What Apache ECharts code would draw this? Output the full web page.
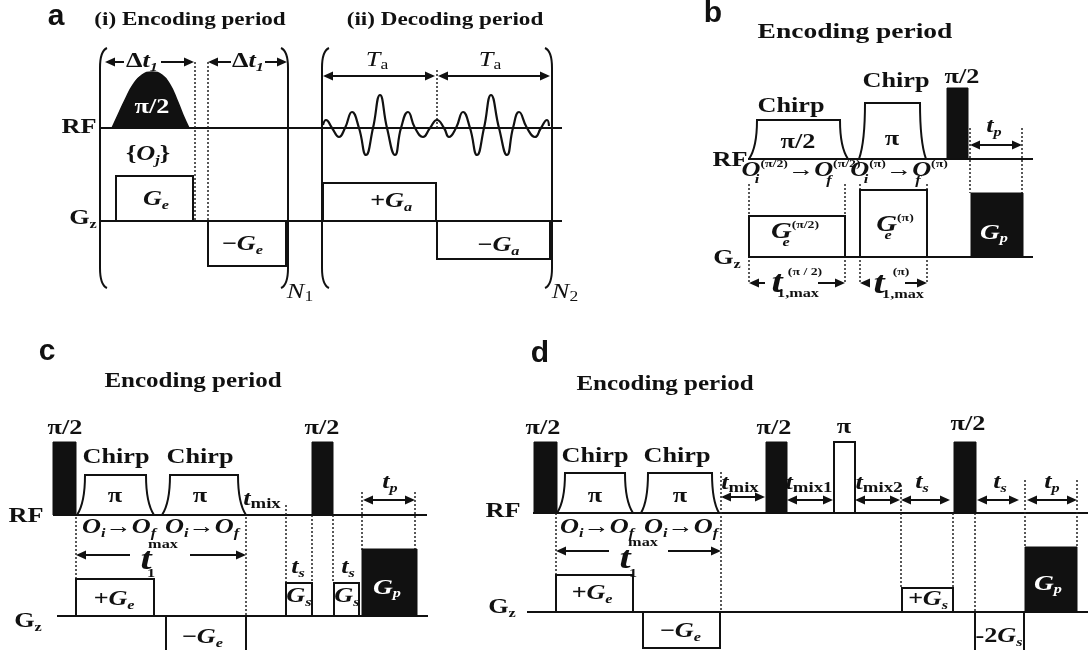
<!DOCTYPE html>
<html>
<head>
<meta charset="utf-8">
<title>Encoding / decoding pulse sequences</title>
<script src="https://cdn.jsdelivr.net/npm/echarts@6/dist/echarts.min.js"></script>
<style>
    html, body { margin: 0; padding: 0; background: #fff; }
    #chart { width: 1088px; height: 650px; }
</style>
</head>
<body>
<div id="chart"></div>
<script>
// all positions are in diagram units: x 0-1088, y 0-650 (y grows downward)

// RF / Gz baselines [x0, x1, y]
const baselines = [
    [100, 562, 128], [100, 562, 221],
    [748, 1033, 159], [748, 1033, 257],
    [53, 427, 515], [57, 428, 616],
    [533, 1088, 513], [527, 1088, 612]
];

// black hard pulses and Gp gradients [x0, x1, yBase, yTop]
const solidPulses = [
    [947, 968, 159, 88], [971, 1023, 257, 193],
    [53, 76, 515, 442], [312, 333, 515, 442], [362, 417, 616, 549],
    [534, 557, 513, 442], [766, 787, 513, 442], [954, 976, 513, 442], [1025, 1077, 612, 547]
];

// open gradient lobes and the open pi pulse [x0, x1, yBase, yTop]
const openBoxes = [
    [116, 193, 221, 176], [208, 286, 221, 266], [323, 436, 221, 183], [437, 550, 221, 259],
    [749, 845, 257, 216], [860, 927, 257, 190],
    [76, 154, 616, 579], [166, 246, 616, 660], [286, 312, 616, 583], [334, 359, 616, 583],
    [556, 633, 612, 575], [643, 720, 612, 648], [902, 953, 612, 588], [975, 1024, 612, 660],
    [834, 855, 513, 442]
];

// chirp pulses [x0, x1, yBase, yTop, rise]
const chirps = [
    [749, 848, 159, 120, 8], [859, 926, 159, 103, 6],
    [77, 154, 515, 475, 8], [162, 246, 515, 475, 8],
    [557, 633, 513, 473, 8], [641, 719, 513, 473, 7]
];

// selective pi/2 pulse of panel a
const lobeX = [112, 118, 125, 133, 142, 152, 162, 170, 177, 183, 189];
const lobeY = [128, 115, 100, 85, 75, 72, 75, 85, 100, 115, 128];

// acquired echoes of panel a
const echoX = [323, 326, 332, 339, 345, 352, 359, 366, 373, 380, 387, 395, 401, 408, 415, 423, 430,
    437, 444, 449, 456, 463, 470, 477, 484, 491, 499, 507, 513, 519, 527, 535, 541, 547, 549];
const echoY = [125, 120, 128, 137, 128, 112, 128, 155, 128, 95, 128, 155, 128, 112, 128, 137, 128,
    120, 128, 137, 128, 112, 128, 155, 128, 95, 128, 155, 128, 112, 128, 137, 128, 120, 126];

// double arrows [x0, x1, y, gapStart, gapEnd]
const arrows = [
    [105, 194, 62, 124, 161], [208, 287, 62, 231, 265], [323, 435, 76], [438, 550, 76],
    [970, 1022, 145], [749, 845, 283, 765, 818], [860, 927, 283, 868, 905],
    [76, 246, 555, 130, 190], [363, 415, 500],
    [556, 721, 551, 609, 668], [721, 765, 497], [787, 833, 500], [855, 900, 500],
    [901, 950, 500], [977, 1019, 500], [1027, 1077, 500]
];

// dotted timing marks [x, y0, y1]
const dotted = [
    [195, 62, 221], [208, 62, 221], [437, 70, 128],
    [749, 184, 283], [845, 184, 283], [860, 184, 283], [927, 184, 283], [970, 128, 193], [1022, 128, 193],
    [76, 517, 579], [246, 517, 616], [286, 505, 583], [312, 515, 583], [333, 515, 583], [362, 492, 550], [415, 492, 550],
    [556, 513, 575], [721, 472, 612], [901, 485, 588], [953, 513, 588], [975, 513, 612], [1025, 480, 547], [1077, 480, 547]
];

// loop brackets [x, y0, y1, side]
const brackets = [[100, 48, 288, 1], [288, 48, 288, -1], [322, 48, 288, 1], [552, 48, 288, -1]];

// panel letters
const panelLetters = [[56, 17, 'a'], [713, 14, 'b'], [47, 352, 'c'], [540, 354, 'd']];

// text labels [x, y, text]
const labels = [
    // a
    [190, 20, '{h0|(i) Encoding period}'],
    [445, 20, '{h0|(ii) Decoding period}'],
    [142, 62, '{t|Δ}{i|t}{sub|1}'],
    [248, 62, '{t|Δ}{i|t}{sub|1}'],
    [152, 108, '{w|π/2}'],
    [79, 128, '{t|RF}'],
    [148, 155, '{{i|O}{sub|j}}'],
    [156, 200, '{i|G}{sub|e}'],
    [242, 245, '{i|−G}{sub|e}'],
    [83, 219, '{t|G}{subn|z}'],
    [300, 292, '{ir|N}{subr|1}'],
    [377, 60, '{ir|T}{subr|a}'],
    [490, 60, '{ir|T}{subr|a}'],
    [391, 202, '{i|+G}{sub|a}'],
    [498, 246, '{i|−G}{sub|a}'],
    [565, 292, '{ir|N}{subr|2}'],
    // b
    [855, 32, '{hb|Encoding period}'],
    [791, 107, '{t|Chirp}'],
    [896, 82, '{t|Chirp}'],
    [798, 143, '{t|π/2}'],
    [892, 140, '{t|π}'],
    [962, 78, '{t|π/2}'],
    [994, 127, '{i|t}{sub|p}'],
    [730, 161, '{t|RF}'],
    [801, 171, '{i|O}{sup|(π/2)}{t|→}{i|O}{sup|(π/2)}'],
    [757, 181, '{sub|i}'], [829, 182, '{sub|f}'],
    [899, 171, '{i|O}{sup|(π)}{t|→}{i|O}{sup|(π)}'],
    [866, 181, '{sub|i}'], [918, 182, '{sub|f}'],
    [795, 232, '{ib|G}{sup|(π/2)}'], [786, 244, '{sub|e}'],
    [895, 225, '{ib|G}{sup|(π)}'], [888, 237, '{sub|e}'],
    [994, 233, '{wi|G}{wsub|p}'],
    [727, 259, '{t|G}{subn|z}'],
    [777, 284, '{big|t}'], [805, 272, '{sup|(π / 2)}'], [798, 295, '{subn|1,max}'],
    [879, 285, '{big|t}'], [901, 272, '{sup|(π)}'], [903, 296, '{subn|1,max}'],
    // c
    [193, 382, '{h|Encoding period}'],
    [65, 429, '{t|π/2}'], [322, 429, '{t|π/2}'],
    [116, 458, '{t|Chirp}'], [200, 458, '{t|Chirp}'],
    [115, 497, '{t|π}'], [200, 497, '{t|π}'],
    [262, 500, '{i|t}{mix|mix}'],
    [390, 483, '{i|t}{sub|p}'],
    [26, 517, '{t|RF}'],
    [119, 528, '{i|O}{sub|i}{t|→}{i|O}{sub|f}'],
    [202, 528, '{i|O}{sub|i}{t|→}{i|O}{sub|f}'],
    [146, 561, '{big|t}'], [163, 546, '{subn|max}'], [151, 575, '{subn|1}'],
    [298, 568, '{i|t}{sub|s}'], [348, 568, '{i|t}{sub|s}'],
    [299, 597, '{i|G}{sub|s}'], [347, 597, '{i|G}{sub|s}'],
    [387, 588, '{wi|G}{wsub|p}'],
    [114, 600, '{i|+G}{sub|e}'],
    [202, 638, '{i|−G}{sub|e}'],
    [28, 622, '{t|G}{subn|z}'],
    // d
    [665, 385, '{h|Encoding period}'],
    [543, 429, '{t|π/2}'], [774, 429, '{t|π/2}'], [968, 425, '{t|π/2}'],
    [595, 457, '{t|Chirp}'], [677, 457, '{t|Chirp}'],
    [595, 497, '{t|π}'], [680, 497, '{t|π}'],
    [844, 428, '{t|π}'],
    [503, 512, '{t|RF}'],
    [597, 528, '{i|O}{sub|i}{t|→}{i|O}{sub|f}'],
    [681, 528, '{i|O}{sub|i}{t|→}{i|O}{sub|f}'],
    [625, 560, '{big|t}'], [643, 544, '{subn|max}'], [633, 575, '{subn|1}'],
    [740, 484, '{i|t}{mix|mix}'],
    [809, 484, '{i|t}{mix|mix1}'],
    [879, 484, '{i|t}{mix|mix2}'],
    [922, 483, '{i|t}{sub|s}'], [1000, 483, '{i|t}{sub|s}'], [1052, 483, '{i|t}{sub|p}'],
    [592, 594, '{i|+G}{sub|e}'],
    [680, 632, '{i|−G}{sub|e}'],
    [928, 600, '{i|+G}{sub|s}'],
    [999, 637, '{t|-2}{i|G}{sub|s}'],
    [1048, 584, '{wi|G}{wsub|p}'],
    [502, 608, '{t|G}{subn|z}']
];

const SERIF = '"Liberation Serif", "Times New Roman", serif';
const SANS = '"Liberation Sans", Arial, sans-serif';
const INK = '#111';
const TEXT_STRETCH = 1.25;

function tok(size, extra) {
    return Object.assign({ fontFamily: SERIF, fontSize: size, fontWeight: 'bold', fill: INK, lineHeight: 24 }, extra);
}

const rich = {
    h0: tok(18.5), h: tok(20), hb: tok(22),
    t: tok(21),
    i: tok(21, { fontStyle: 'italic' }),
    ib: tok(23, { fontStyle: 'italic' }),
    ir: tok(21, { fontStyle: 'italic', fontWeight: 'normal' }),
    sub: tok(13, { fontStyle: 'italic', lineHeight: 10, verticalAlign: 'bottom' }),
    subn: tok(13, { lineHeight: 10, verticalAlign: 'bottom' }),
    subr: tok(14, { fontWeight: 'normal', lineHeight: 10, verticalAlign: 'bottom' }),
    sup: tok(11, { lineHeight: 10, verticalAlign: 'top' }),
    mix: tok(15, { lineHeight: 14, verticalAlign: 'bottom' }),
    big: tok(32, { fontStyle: 'italic', lineHeight: 32 }),
    w: tok(21, { fill: '#fff' }),
    wi: tok(22, { fontStyle: 'italic', fill: '#fff' }),
    wsub: tok(13, { fontStyle: 'italic', fill: '#fff', lineHeight: 10, verticalAlign: 'bottom' })
};

// custom series helper: one element per row
function shapeSeries(rows, z, build) {
    return {
        type: 'custom',
        coordinateSystem: 'cartesian2d',
        clip: false,
        silent: true,
        z: z,
        data: rows.map(r => [r[0], r[1]]),
        renderItem: (params, api) => build(rows[params.dataIndex], api)
    };
}

function renderBaseline(r, api) {
    const a = api.coord([r[0], r[2]]), b = api.coord([r[1], r[2]]);
    return { type: 'line', shape: { x1: a[0], y1: a[1], x2: b[0], y2: b[1] }, style: { stroke: INK, lineWidth: 2 } };
}

function renderDotted(r, api) {
    const a = api.coord([r[0], r[1]]), b = api.coord([r[0], r[2]]);
    return { type: 'line', shape: { x1: a[0], y1: a[1], x2: b[0], y2: b[1] }, style: { stroke: '#222', lineWidth: 1.5, lineDash: [2, 2] } };
}

function boxRenderer(fill, width) {
    return function (r, api) {
        const p = api.coord([r[0], r[3]]), q = api.coord([r[1], r[2]]);
        return {
            type: 'rect',
            shape: { x: Math.min(p[0], q[0]), y: Math.min(p[1], q[1]), width: Math.abs(q[0] - p[0]), height: Math.abs(q[1] - p[1]) },
            style: { fill: fill, stroke: INK, lineWidth: width }
        };
    };
}

function renderChirp(r, api) {
    const [x0, x1, yb, yt, rise] = r;
    const A = api.coord([x0, yb]), B = api.coord([x0 + rise, yt]);
    const C = api.coord([x1 - rise, yt]), D = api.coord([x1, yb]);
    const h = A[1] - B[1];
    const d = 'M' + A[0] + ' ' + A[1] +
        ' Q' + B[0] + ' ' + (A[1] - h * 0.3) + ' ' + B[0] + ' ' + B[1] +
        ' L' + C[0] + ' ' + C[1] +
        ' Q' + C[0] + ' ' + (D[1] - h * 0.3) + ' ' + D[0] + ' ' + D[1];
    return { type: 'path', shape: { pathData: d }, style: { stroke: INK, lineWidth: 2, fill: 'none' } };
}

function renderBracket(r, api) {
    const [x, y0, y1, side] = r;
    const p = api.coord([x, y0]), q = api.coord([x, y1]);
    const tip = 7 * side, bend = 20;
    const d = 'M' + (p[0] + tip) + ' ' + p[1] +
        ' Q' + p[0] + ' ' + (p[1] + 3) + ' ' + p[0] + ' ' + (p[1] + bend) +
        ' L' + q[0] + ' ' + (q[1] - bend) +
        ' Q' + q[0] + ' ' + (q[1] - 3) + ' ' + (q[0] + tip) + ' ' + q[1];
    return { type: 'path', shape: { pathData: d }, style: { stroke: INK, lineWidth: 2, fill: 'none' } };
}

function renderArrow(r, api) {
    const [x0, x1, y, g0, g1] = r;
    const a = api.coord([x0, y]), b = api.coord([x1, y]);
    const head = 10, half = 4.5;
    const segs = g0 == null
        ? [[a[0] + 2, b[0] - 2]]
        : [[a[0] + 2, api.coord([g0, y])[0]], [api.coord([g1, y])[0], b[0] - 2]];
    const children = segs.map(s => ({
        type: 'line', shape: { x1: s[0], y1: a[1], x2: s[1], y2: a[1] }, style: { stroke: INK, lineWidth: 2 }
    }));
    children.push({ type: 'polygon', shape: { points: [[a[0], a[1]], [a[0] + head, a[1] - half], [a[0] + head, a[1] + half]] }, style: { fill: INK } });
    children.push({ type: 'polygon', shape: { points: [[b[0], b[1]], [b[0] - head, b[1] - half], [b[0] - head, b[1] + half]] }, style: { fill: INK } });
    return { type: 'group', children: children };
}

function renderLabel(r, api) {
    const p = api.coord([r[0], r[1]]);
    return {
        type: 'text', x: p[0], y: p[1], scaleX: TEXT_STRETCH,
        style: {
            text: r[2], rich: rich, align: 'center', verticalAlign: 'middle',
            fill: INK, fontFamily: SERIF, fontSize: 21, fontWeight: 'bold'
        }
    };
}

function renderLetter(r, api) {
    const p = api.coord([r[0], r[1]]);
    return {
        type: 'text', x: p[0], y: p[1],
        style: { text: r[2], align: 'center', verticalAlign: 'middle', fill: INK, fontFamily: SANS, fontSize: 30, fontWeight: 'bold' }
    };
}

const chart = echarts.init(document.getElementById('chart'));

chart.setOption({
    animation: false,
    backgroundColor: '#fff',
    grid: { left: 0, right: 0, top: 0, bottom: 0 },
    xAxis: { type: 'value', min: 0, max: 1088, show: false },
    yAxis: { type: 'value', min: 0, max: 650, inverse: true, show: false },
    series: [
        shapeSeries(baselines, 1, renderBaseline),
        shapeSeries(dotted, 2, renderDotted),
        shapeSeries(openBoxes, 3, boxRenderer('none', 2)),
        shapeSeries(chirps, 3, renderChirp),
        shapeSeries(solidPulses, 4, boxRenderer(INK, 1)),
        {
            type: 'line',
            z: 4,
            silent: true,
            smooth: 0.5,
            symbol: 'none',
            data: lobeX.map((x, i) => [x, lobeY[i]]),
            lineStyle: { color: INK, width: 1.5 },
            areaStyle: { color: INK, opacity: 1, origin: 128 }
        },
        {
            type: 'line',
            z: 4,
            silent: true,
            smooth: 0.5,
            symbol: 'none',
            data: echoX.map((x, i) => [x, echoY[i]]),
            lineStyle: { color: INK, width: 2.2 }
        },
        shapeSeries(brackets, 5, renderBracket),
        shapeSeries(arrows, 5, renderArrow),
        shapeSeries(labels, 6, renderLabel),
        shapeSeries(panelLetters, 6, renderLetter)
    ]
});

window.addEventListener('resize', function () {
    chart.resize();
});
</script>
</body>
</html>
